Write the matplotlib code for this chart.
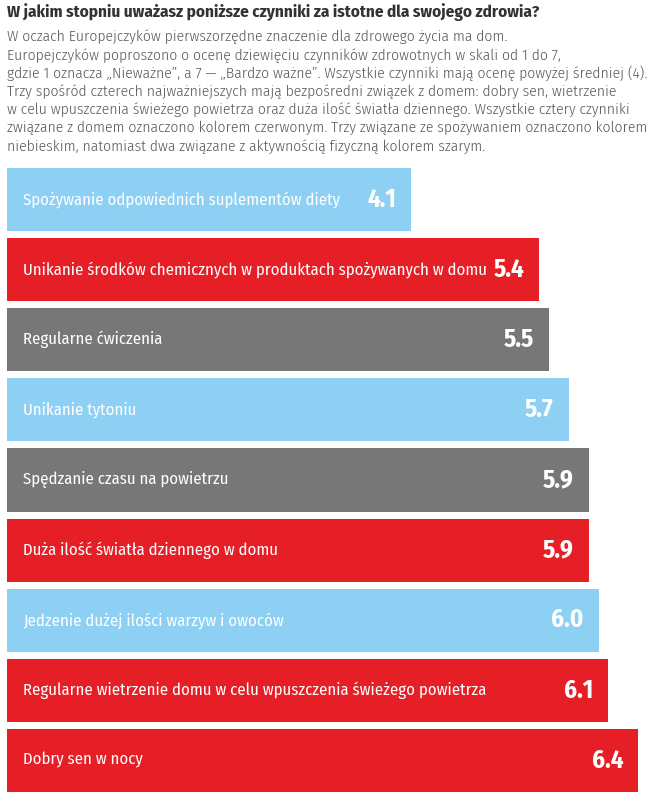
import matplotlib
matplotlib.use("Agg")
import matplotlib.pyplot as plt
from matplotlib import font_manager

# dane
labels = [
    "Spożywanie odpowiednich suplementów diety",
    "Unikanie środków chemicznych w produktach spożywanych w domu",
    "Regularne ćwiczenia",
    "Unikanie tytoniu",
    "Spędzanie czasu na powietrzu",
    "Duża ilość światła dziennego w domu",
    "Jedzenie dużej ilości warzyw i owoców",
    "Regularne wietrzenie domu w celu wpuszczenia świeżego powietrza",
    "Dobry sen w nocy",
]
values = [4.1, 5.4, 5.5, 5.7, 5.9, 5.9, 6.0, 6.1, 6.4]
groups = ["jedzenie", "dom", "ruch", "jedzenie", "ruch", "dom", "jedzenie", "dom", "dom"]

title = "W jakim stopniu uważasz poniższe czynniki za istotne dla swojego zdrowia?"
subtitle = [
    "W oczach Europejczyków pierwszorzędne znaczenie dla zdrowego życia ma dom.",
    "Europejczyków poproszono o ocenę dziewięciu czynników zdrowotnych w skali od 1 do 7,",
    "gdzie 1 oznacza „Nieważne”, a 7 — „Bardzo ważne”. Wszystkie czynniki mają ocenę powyżej średniej (4).",
    "Trzy spośród czterech najważniejszych mają bezpośredni związek z domem: dobry sen, wietrzenie",
    "w celu wpuszczenia świeżego powietrza oraz duża ilość światła dziennego. Wszystkie cztery czynniki",
    "związane z domem oznaczono kolorem czerwonym. Trzy związane ze spożywaniem oznaczono kolorem",
    "niebieskim, natomiast dwa związane z aktywnością fizyczną kolorem szarym.",
]

kolory = {"jedzenie": "#8dd0f3", "dom": "#e61e26", "ruch": "#777777"}

names = set(f.name for f in font_manager.fontManager.ttflist)
font = "DejaVu Sans"
for cand in ["Fira Sans Condensed", "Roboto Condensed", "Liberation Sans Narrow"]:
    if cand in names:
        font = cand
        break

W, H = 660, 802
fig = plt.figure(figsize=(W / 100, H / 100), dpi=100)
fig.patch.set_facecolor("white")

# 1 jednostka = ~98.6 px, zero na x=7
x0 = 7
xmax = 6.6
ax_w = xmax * 98.6
top, bottom = 164.5, 795.5
ax = fig.add_axes([x0 / W, 1 - bottom / H, ax_w / W, (bottom - top) / H])
ax.barh(range(len(values)), values, height=0.9,
        color=[kolory[g] for g in groups])
ax.set_xlim(0, xmax)
ax.set_ylim(len(values) - 0.5, -0.5)
ax.axis("off")

for i, (lab, v) in enumerate(zip(labels, values)):
    ax.annotate(lab, (0, i), xytext=(16, 0), textcoords="offset pixels",
                ha="left", va="center", color="white", fontsize=12,
                family=font, fontweight=400)
    ax.annotate(f"{v:.1f}", (v, i), xytext=(-15, 0), textcoords="offset pixels",
                ha="right", va="center", color="white", fontsize=18,
                fontweight="bold", family=font)

fig.text(7 / W, 1 - 12 / H, title, ha="left", va="center", fontsize=12.3,
         fontweight="bold", color="#333333", family=font)
for k, line in enumerate(subtitle):
    fig.text(7 / W, 1 - (37 + k * 18.2) / H, line, ha="left", va="center",
             fontsize=11.2, color="#585858", family=font, fontweight=300)

fig.savefig("out.png", dpi=100, facecolor="white")
